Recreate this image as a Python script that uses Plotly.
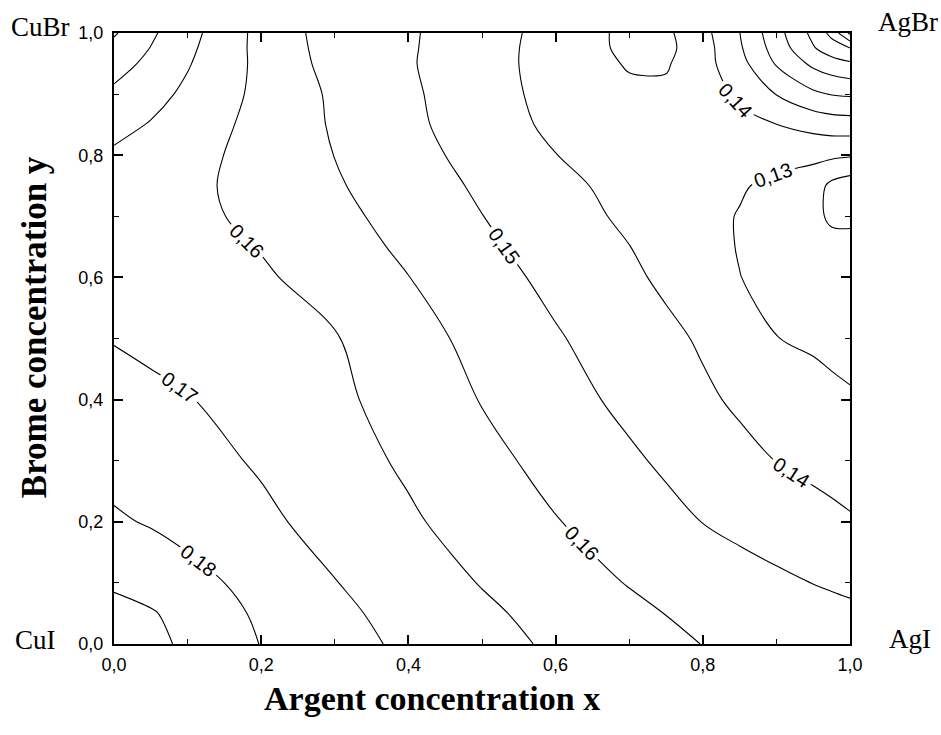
import plotly.graph_objects as go

# Argent concentration x (columns) and Brome concentration y (rows)
x_conc = [0.0, 0.05, 0.1, 0.2, 0.3, 0.4, 0.5, 0.6, 0.7, 0.75, 0.8, 0.85, 0.9, 0.95, 0.975, 1.0]
y_conc = [0.0, 0.05, 0.1, 0.2, 0.3, 0.4, 0.5, 0.6, 0.65, 0.7, 0.75, 0.8, 0.85, 0.9, 0.95, 0.975, 1.0]

z_y000 = [0.1877, 0.1851, 0.1824, 0.1763, 0.1720, 0.1682, 0.1648, 0.1615, 0.1584, 0.1568, 0.1554, 0.1545, 0.1537, 0.1528, 0.1524, 0.1523]
z_y005 = [0.1853, 0.1841, 0.1811, 0.1754, 0.1710, 0.1672, 0.1637, 0.1603, 0.1570, 0.1554, 0.1542, 0.1531, 0.1520, 0.1509, 0.1503, 0.1498]
z_y010 = [0.1827, 0.1807, 0.1787, 0.1743, 0.1697, 0.1659, 0.1622, 0.1586, 0.1552, 0.1538, 0.1524, 0.1511, 0.1497, 0.1484, 0.1478, 0.1472]
z_y020 = [0.1773, 0.1760, 0.1743, 0.1708, 0.1672, 0.1634, 0.1596, 0.1558, 0.1521, 0.1503, 0.1484, 0.1468, 0.1454, 0.1438, 0.1430, 0.1421]
z_y030 = [0.1743, 0.1730, 0.1717, 0.1688, 0.1652, 0.1615, 0.1574, 0.1534, 0.1495, 0.1475, 0.1454, 0.1433, 0.1414, 0.1399, 0.1392, 0.1386]
z_y040 = [0.1718, 0.1708, 0.1698, 0.1668, 0.1638, 0.1599, 0.1552, 0.1511, 0.1469, 0.1447, 0.1426, 0.1405, 0.1384, 0.1367, 0.1359, 0.1352]
z_y050 = [0.1692, 0.1682, 0.1671, 0.1650, 0.1629, 0.1582, 0.1534, 0.1491, 0.1450, 0.1430, 0.1407, 0.1378, 0.1346, 0.1336, 0.1329, 0.1323]
z_y060 = [0.1674, 0.1664, 0.1654, 0.1633, 0.1600, 0.1556, 0.1511, 0.1468, 0.1427, 0.1403, 0.1374, 0.1346, 0.1328, 0.1310, 0.1301, 0.1300]
z_y065 = [0.1671, 0.1659, 0.1647, 0.1622, 0.1583, 0.1543, 0.1498, 0.1456, 0.1416, 0.1391, 0.1366, 0.1342, 0.1314, 0.1296, 0.1288, 0.1287]
z_y070 = [0.1667, 0.1654, 0.1641, 0.1610, 0.1572, 0.1531, 0.1486, 0.1444, 0.1403, 0.1382, 0.1362, 0.1342, 0.1310, 0.1286, 0.1268, 0.1267]
z_y075 = [0.1668, 0.1654, 0.1639, 0.1604, 0.1562, 0.1518, 0.1475, 0.1431, 0.1396, 0.1381, 0.1366, 0.1351, 0.1331, 0.1310, 0.1258, 0.1237]
z_y080 = [0.1685, 0.1665, 0.1647, 0.1602, 0.1554, 0.1508, 0.1462, 0.1416, 0.1387, 0.1380, 0.1372, 0.1366, 0.1366, 0.1360, 0.1358, 0.1352]
z_y085 = [0.1716, 0.1691, 0.1662, 0.1604, 0.1548, 0.1500, 0.1449, 0.1401, 0.1377, 0.1373, 0.1377, 0.1395, 0.1414, 0.1438, 0.1448, 0.1452]
z_y090 = [0.1751, 0.1717, 0.1682, 0.1608, 0.1544, 0.1496, 0.1444, 0.1393, 0.1359, 0.1359, 0.1380, 0.1428, 0.1487, 0.1542, 0.1558, 0.1564]
z_y095 = [0.1793, 0.1748, 0.1700, 0.1608, 0.1531, 0.1491, 0.1440, 0.1390, 0.1339, 0.1338, 0.1389, 0.1461, 0.1561, 0.1640, 0.1667, 0.1685]
z_y0975 = [0.1816, 0.1763, 0.1709, 0.1605, 0.1527, 0.1492, 0.1442, 0.1389, 0.1330, 0.1328, 0.1386, 0.1476, 0.1584, 0.1689, 0.1729, 0.1762]
z_y100 = [0.1842, 0.1776, 0.1718, 0.1604, 0.1523, 0.1493, 0.1444, 0.1391, 0.1328, 0.1332, 0.1393, 0.1484, 0.1599, 0.1713, 0.1785, 0.1919]

z_grid = [z_y000, z_y005, z_y010, z_y020, z_y030, z_y040, z_y050, z_y060, z_y065,
          z_y070, z_y075, z_y080, z_y085, z_y090, z_y095, z_y0975, z_y100]

level_start = 0.1275
level_end = 0.1905
level_step = 0.007

tick_vals = [0.0, 0.2, 0.4, 0.6, 0.8, 1.0]

fig = go.Figure()
fig.add_trace(go.Contour(
    x=x_conc, y=y_conc, z=z_grid,
    autocontour=False,
    contours=dict(start=level_start, end=level_end, size=level_step,
                  coloring="none", showlabels=True,
                  labelfont=dict(family="Liberation Sans, Arial", size=20, color="black"),
                  labelformat=".2f"),
    line=dict(color="black", width=1.1, smoothing=1.0),
    showscale=False, hoverinfo="skip",
))

axis_common = dict(
    range=[0, 1], tickvals=tick_vals, tickformat=".1f",
    ticks="inside", ticklen=9, tickwidth=1.5, tickcolor="black",
    minor=dict(dtick=0.1, ticks="inside", ticklen=5, tickwidth=1.2, tickcolor="black"),
    showline=True, linewidth=2, linecolor="black", mirror="ticks",
    showgrid=False, zeroline=False,
    tickfont=dict(family="Liberation Sans, Arial", size=18, color="black"),
)

fig.update_layout(
    width=941, height=735,
    margin=dict(l=114, r=91, t=33, b=91),
    paper_bgcolor="white", plot_bgcolor="white",
    separators=", ",
    showlegend=False,
    xaxis=dict(**axis_common, ticklabelstandoff=3),
    yaxis=dict(**axis_common, ticklabelstandoff=5),
)

serif = "Liberation Serif, Times New Roman, serif"
annotations = [
    dict(text="CuBr", x=-0.057, y=1.010, xanchor="right", yanchor="middle", font=dict(family=serif, size=27)),
    dict(text="AgBr", x=1.035, y=1.018, xanchor="left", yanchor="middle", font=dict(family=serif, size=27)),
    dict(text="CuI", x=-0.076, y=0.007, xanchor="right", yanchor="middle", font=dict(family=serif, size=27)),
    dict(text="AgI", x=1.050, y=0.008, xanchor="left", yanchor="middle", font=dict(family=serif, size=27)),
    dict(text="<b>Argent concentration x</b>", x=0.432, y=-0.089, xanchor="center", yanchor="middle",
         font=dict(family=serif, size=34)),
    dict(text="<b>Brome concentration y</b>", x=-0.107, y=0.519, xanchor="center", yanchor="middle",
         textangle=-90, font=dict(family=serif, size=35)),
]
for a in annotations:
    a.update(xref="paper", yref="paper", showarrow=False)
    a["font"]["color"] = "black"
fig.update_layout(annotations=annotations)

fig.write_html("out.html")
